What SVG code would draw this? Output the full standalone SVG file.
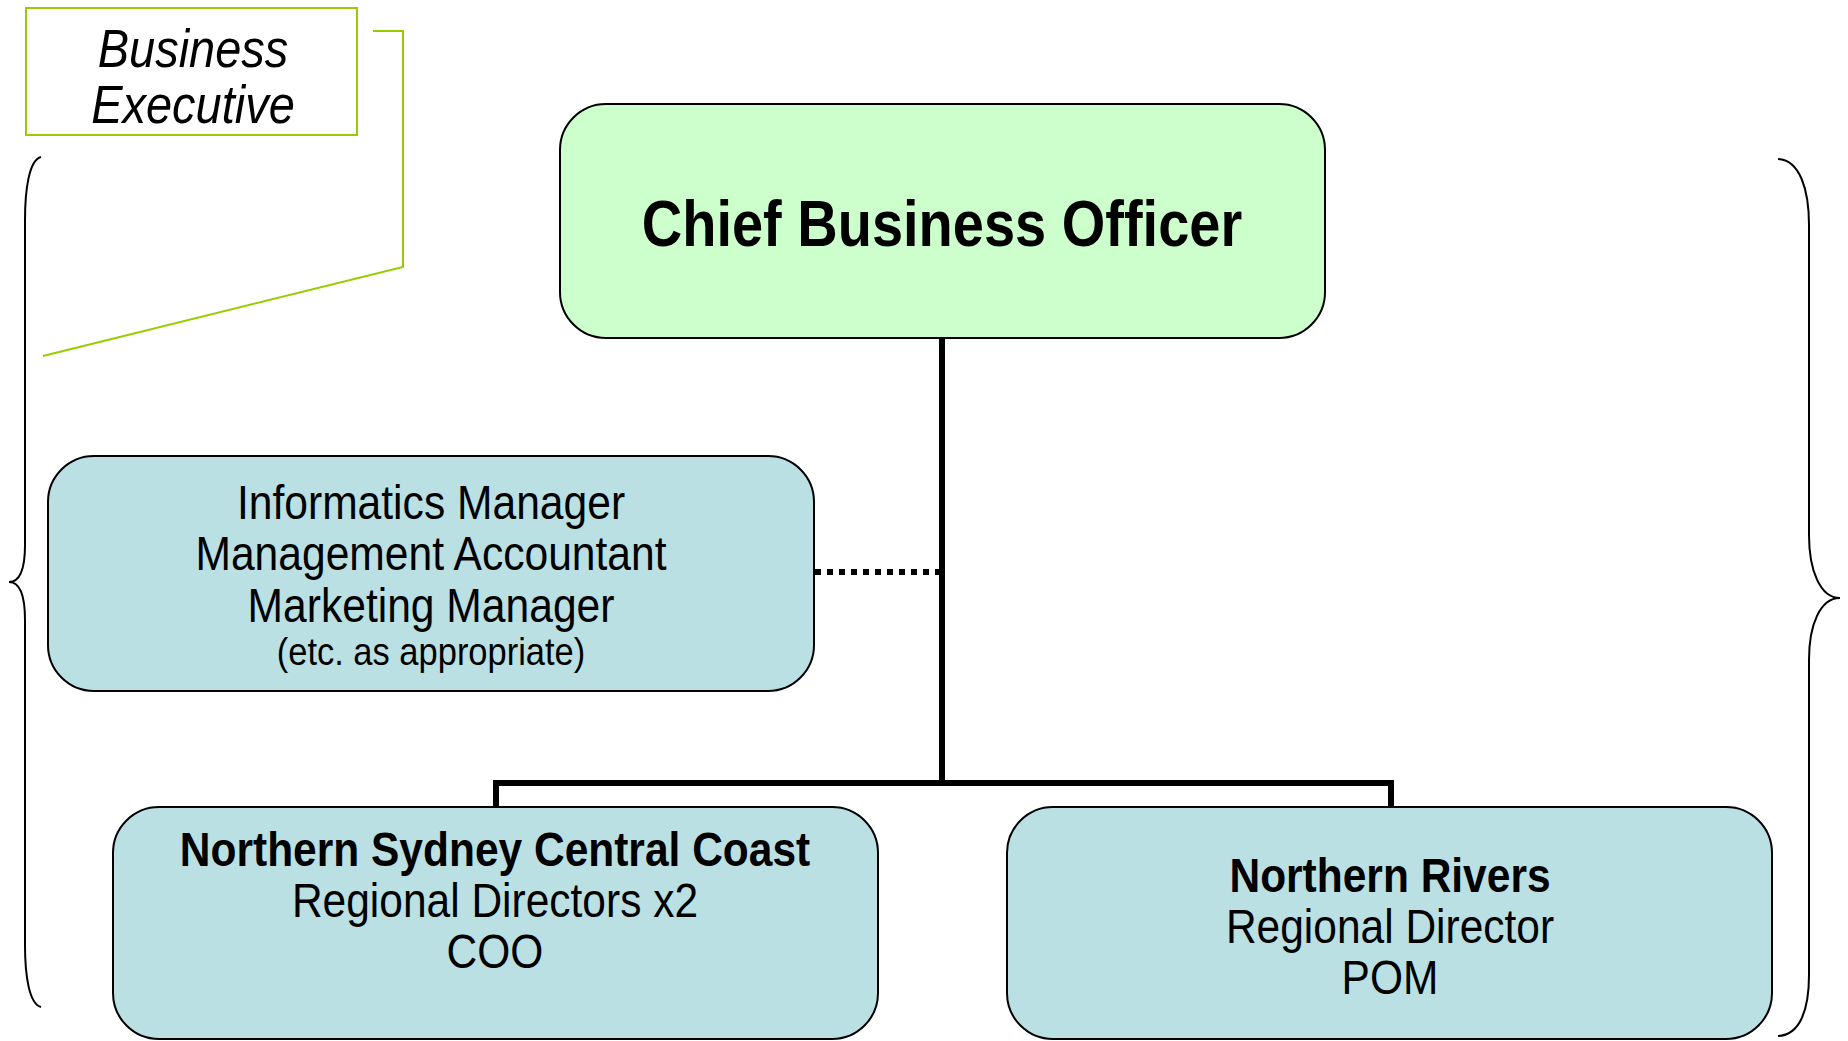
<svg xmlns="http://www.w3.org/2000/svg" width="1848" height="1041" viewBox="0 0 1848 1041">
<style>
.box{stroke:#000;stroke-width:2}
.cbo{fill:#CCFFCC}
.blue{fill:#BBE0E3}
.t{font-family:"Liberation Sans",Arial,sans-serif;fill:#000;text-anchor:middle}
.b{font-weight:bold}
.brace{fill:none;stroke:#000;stroke-width:2}
.call{fill:none;stroke:#99CC00;stroke-width:2}
.conn{fill:none;stroke:#000;stroke-width:6}
</style>
<rect width="1848" height="1041" fill="#fff"/>
<g id="braces">
<path class="brace" d="M41,157 C29,160 25,190 25,220 L25,545 C25,570 20,582 9,582 C20,582 25,595 25,620 L25,945 C25,975 29,1004 41,1007"/>
<path class="brace" d="M1778,159 C1800,160 1809,190 1809,225 L1809,535 C1809,570 1820,598 1840,598 C1820,598 1809,625 1809,660 L1809,975 C1809,1010 1800,1035 1778,1036"/>
</g>
<g id="business-executive">
<rect x="26" y="8" width="331" height="127" fill="#fff" stroke="#99CC00" stroke-width="2"/>
<polyline class="call" points="373,31 403,31 403,267 43,356"/>
<text class="t" font-size="47" font-style="italic" transform="translate(193 67) scale(1 1.15)">Business</text>
<text class="t" font-size="47" font-style="italic" transform="translate(193 123) scale(1 1.15)">Executive</text>
</g>
<g id="connectors">
<line class="conn" x1="942" y1="338" x2="942" y2="783"/>
<polyline class="conn" points="496,808 496,783 1391,783 1391,808"/>
<line x1="815" y1="572" x2="939" y2="572" stroke="#000" stroke-width="6" stroke-dasharray="6 6"/>
</g>
<g id="cbo">
<rect class="box cbo" x="560" y="104" width="765" height="234" rx="46" ry="46"/>
<text class="t b" font-size="56" transform="translate(942 246) scale(1 1.15)">Chief Business Officer</text>
</g>
<g id="support">
<rect class="box blue" x="48" y="456" width="766" height="235" rx="46" ry="46"/>
<text class="t" font-size="42.6" transform="translate(431 519) scale(1 1.15)">Informatics Manager</text>
<text class="t" font-size="42.6" transform="translate(431 570) scale(1 1.15)">Management Accountant</text>
<text class="t" font-size="42.6" transform="translate(431 622) scale(1 1.15)">Marketing Manager</text>
<text class="t" font-size="34.5" transform="translate(431 665) scale(1 1.15)">(etc. as appropriate)</text>
</g>
<g id="nscc">
<rect class="box blue" x="113" y="807" width="765" height="232" rx="46" ry="46"/>
<text class="t b" font-size="42.5" transform="translate(495 866) scale(1 1.15)">Northern Sydney Central Coast</text>
<text class="t" font-size="42.5" transform="translate(495 917) scale(1 1.15)">Regional Directors x2</text>
<text class="t" font-size="42.5" transform="translate(495 968) scale(1 1.15)">COO</text>
</g>
<g id="nr">
<rect class="box blue" x="1007" y="807" width="765" height="232" rx="46" ry="46"/>
<text class="t b" font-size="42.5" transform="translate(1390 892) scale(1 1.15)">Northern Rivers</text>
<text class="t" font-size="42.5" transform="translate(1390 943) scale(1 1.15)">Regional Director</text>
<text class="t" font-size="42.5" transform="translate(1390 994) scale(1 1.15)">POM</text>
</g>
</svg>
